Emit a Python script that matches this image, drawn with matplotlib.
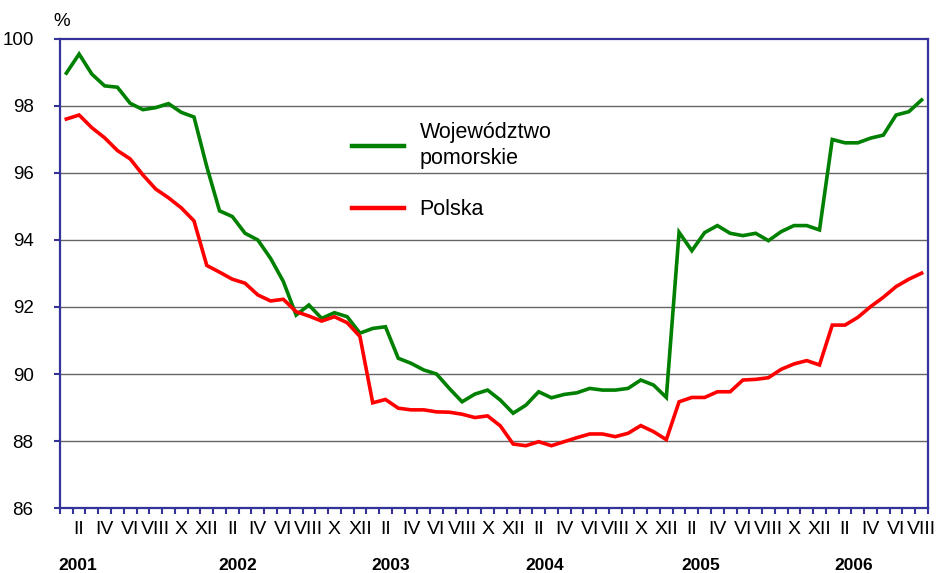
import matplotlib

matplotlib.use("Agg")
import matplotlib.pyplot as plt
import matplotlib.transforms as mtransforms
import numpy as np

plt.rcParams["font.family"] = ["Liberation Sans", "DejaVu Sans"]

# monthly index, I 2001 .. VIII 2006
months = ["I", "II", "III", "IV", "V", "VI", "VII", "VIII", "IX", "X", "XI", "XII"]
years = ["2001", "2002", "2003", "2004", "2005", "2006"]
n_months = 68

pomorskie = [
    98.98, 99.55, 98.95, 98.60, 98.56, 98.08, 97.89, 97.95, 98.07, 97.81, 97.67, 96.19,
    94.87, 94.70, 94.20, 94.00, 93.45, 92.76, 91.76, 92.06, 91.66, 91.83, 91.71, 91.22,
    91.36, 91.41, 90.47, 90.32, 90.12, 90.00, 89.57, 89.17, 89.40, 89.52, 89.22, 88.83,
    89.07, 89.47, 89.29, 89.39, 89.44, 89.57, 89.52, 89.52, 89.57, 89.82, 89.67, 89.30,
    94.23, 93.68, 94.22, 94.43, 94.20, 94.13, 94.20, 93.98, 94.25, 94.43, 94.43, 94.30,
    97.00, 96.90, 96.90, 97.04, 97.13, 97.73, 97.83, 98.18,
]
polska = [
    97.61, 97.73, 97.35, 97.05, 96.67, 96.42, 95.94, 95.52, 95.26, 94.96, 94.57, 93.24,
    93.04, 92.83, 92.71, 92.36, 92.18, 92.23, 91.86, 91.73, 91.58, 91.71, 91.53, 91.12,
    89.14, 89.24, 88.98, 88.93, 88.93, 88.87, 88.86, 88.80, 88.70, 88.75, 88.45, 87.91,
    87.86, 87.98, 87.86, 87.98, 88.10, 88.21, 88.21, 88.13, 88.23, 88.46, 88.28, 88.04,
    89.17, 89.30, 89.30, 89.47, 89.47, 89.82, 89.84, 89.89, 90.14, 90.30, 90.40, 90.27,
    91.46, 91.46, 91.69, 92.01, 92.29, 92.61, 92.83, 93.01,
]
y_ticks = [86, 88, 90, 92, 94, 96, 98, 100]

AXIS_BLUE = "#333399"


def main():

    fig = plt.figure(figsize=(9.37, 5.73), dpi=100)
    ax = fig.add_axes([0.064, 0.1134, 0.9264, 0.8186])

    x = np.arange(n_months)
    ax.plot(x, pomorskie, color="#008000", linewidth=2.6, label="Województwo\npomorskie",
            solid_joinstyle="miter", zorder=3)
    ax.plot(x, polska, color="#ff0000", linewidth=2.6, label="Polska",
            solid_joinstyle="miter", zorder=3)

    ax.set_xlim(-0.5, n_months - 0.5)
    ax.set_ylim(86, 100)

    for v in y_ticks[1:-1]:
        ax.axhline(v, color="#666666", linewidth=1.0, zorder=1)

    for side in ["left", "right", "top", "bottom"]:
        ax.spines[side].set_color(AXIS_BLUE)
        ax.spines[side].set_linewidth(1.6)

    ax.set_yticks(y_ticks)
    ax.set_yticklabels([str(v) for v in y_ticks], fontsize=13.5)
    ax.tick_params(axis="y", direction="out", length=4, width=1.5, color=AXIS_BLUE, pad=15)

    # month boundary ticks + roman month labels every second month
    ax.set_xticks(np.arange(-0.5, n_months, 1.0), minor=True)
    label_pos = [i for i in range(n_months) if i % 2 == 1]
    ax.set_xticks(label_pos)
    ax.set_xticklabels([months[i % 12] for i in label_pos], fontsize=14)
    ax.tick_params(axis="x", which="major", length=0, pad=9)
    ax.tick_params(axis="x", which="minor", direction="out", length=4, width=1.5,
                   color=AXIS_BLUE)

    trans = mtransforms.blended_transform_factory(ax.transData, fig.transFigure)
    year_pos = [0.9, 13.4, 25.4, 37.5, 49.7, 61.7]
    for pos, yr in zip(year_pos, years):
        ax.text(pos, 0.013, yr, transform=trans, ha="center", va="center",
                fontsize=12.5, fontweight="bold")

    fig.text(0.066, 0.963, "%", ha="center", va="center", fontsize=13.5)

    leg = ax.legend(loc="upper left", bbox_to_anchor=(0.336, 0.822), frameon=False,
                    fontsize=15.5, handlelength=2.45, handletextpad=0.7, labelspacing=1.4,
                    borderpad=0, borderaxespad=0)
    for line in leg.get_lines():
        line.set_linewidth(3.2)
    for txt in leg.get_texts():
        txt.set_linespacing(1.3)

    fig.savefig("out.png", dpi=100)
    plt.close(fig)


if __name__ == "__main__":
    main()
